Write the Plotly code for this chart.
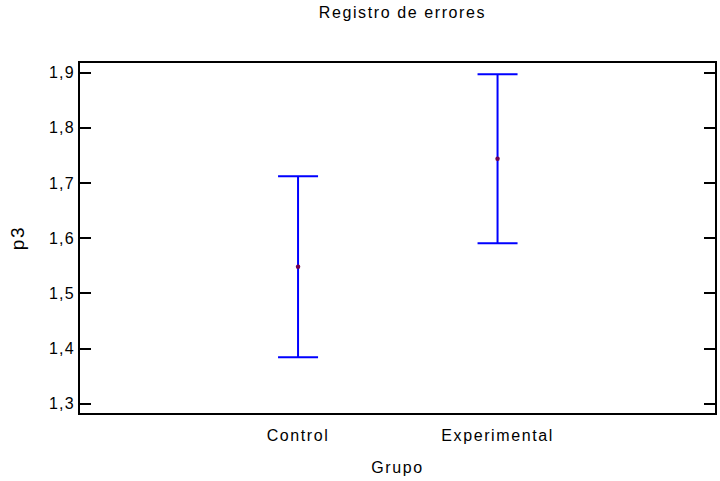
import plotly.graph_objects as go

groups = ["Control", "Experimental"]
means = [1.548, 1.744]
errors = [0.164, 0.153]
y_ticks = [1.3, 1.4, 1.5, 1.6, 1.7, 1.8, 1.9]

x_pos = list(range(len(groups)))

FAM = "Liberation Sans, Arial, sans-serif"

fig = go.Figure()
fig.add_trace(go.Scatter(
    x=x_pos, y=means, mode="markers",
    marker=dict(size=4.5, color="#700050"),
    error_y=dict(type="data", array=errors, visible=True,
                 color="#0000ff", thickness=2, width=20),
    showlegend=False,
))

fig.update_layout(
    width=720, height=481,
    margin=dict(l=80, r=3, t=63, b=68),
    paper_bgcolor="white", plot_bgcolor="white",
    separators=",.",
    font=dict(family=FAM, size=16, color="#000000"),
    title=dict(text="Registro de errores", xref="container", x=0.559, xanchor="center",
               yref="container", y=0.975, yanchor="middle",
               font=dict(size=16, family=FAM, color="#000000")),
    xaxis=dict(
        range=[-1.093, 2.09], tickvals=x_pos, ticktext=groups,
        showgrid=False, zeroline=False, showline=True, linecolor="black", linewidth=2,
        mirror=True, ticks="", tickfont=dict(size=16), ticklabelstandoff=7,
        title=dict(text="Grupo", standoff=19, font=dict(size=16)),
    ),
    yaxis=dict(
        range=[1.2832, 1.9174], tickvals=y_ticks, tickformat=".1f",
        showgrid=False, zeroline=False, showline=True, linecolor="black", linewidth=2,
        mirror="ticks", ticks="inside", ticklen=11, tickwidth=2, tickcolor="black",
        tickfont=dict(size=16),
        title=dict(text="p3", standoff=23, font=dict(size=19)),
    ),
)

post = """
var gd = document.getElementById('{plot_id}');
gd.querySelectorAll('.gtitle, .xtitle, .ytitle, .xtick text').forEach(function(t){ t.style.letterSpacing = '1.6px'; });
gd.querySelectorAll('.ytick text').forEach(function(t){ t.style.letterSpacing = '1.2px'; });
"""

fig.write_html("out.html", post_script=post)
